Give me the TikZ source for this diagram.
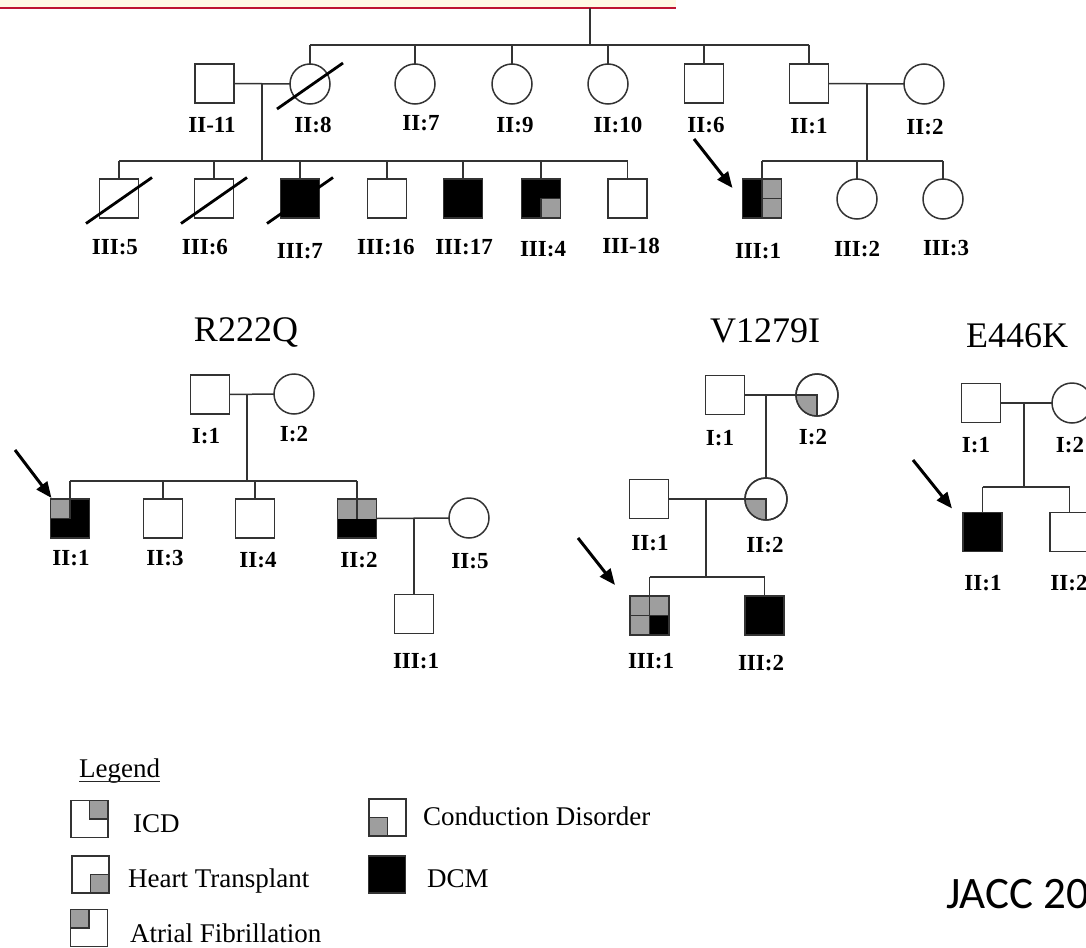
\documentclass[tikz,border=0pt]{standalone}
\usepackage{fontspec}
\setmainfont{Liberation Serif}
\newfontfamily\calibfont{Carlito}
\usetikzlibrary{arrows.meta,calc}
\definecolor{cream}{RGB}{255,249,228}
\definecolor{redline}{RGB}{190,20,50}
\newcommand\qNE[1]{\fill[gy] (#1.center) rectangle (#1.north east); \draw[ln] (#1.north) -- (#1.center) -- (#1.east);}
\newcommand\qNW[1]{\fill[gy] (#1.center) rectangle (#1.north west); \draw[ln] (#1.north) -- (#1.center) -- (#1.west);}
\newcommand\qSE[1]{\fill[gy] (#1.center) rectangle (#1.south east); \draw[ln] (#1.south) -- (#1.center) -- (#1.east);}
\newcommand\qSW[1]{\fill[gy] (#1.center) rectangle (#1.south west); \draw[ln] (#1.south) -- (#1.center) -- (#1.west);}
\newcommand\rebox[1]{\draw[ln] (#1.north west) rectangle (#1.south east);}
\newcommand\slashit[1]{\draw[dead] ([shift={(-33,25)}]#1.center) -- ([shift={(33,-21)}]#1.center);}
\begin{document}
\begin{tikzpicture}[x=1pt,y=-1pt,
 ln/.style={draw=black!80,line width=1.5pt},
 sq/.style={rectangle,draw=black!80,line width=1.5pt,minimum size=39pt,inner sep=0pt,outer sep=0pt,fill=white},
 ci/.style={circle,draw=black!80,line width=1.5pt,minimum size=40pt,inner sep=0pt,outer sep=0pt,fill=white},
 bsq/.style={sq,fill=black},
 lsq/.style={sq,minimum size=37pt},
 lab/.style={font=\fontsize{23}{23}\selectfont\bfseries,anchor=base,inner sep=0pt},
 ttl/.style={font=\fontsize{36}{36}\selectfont,anchor=base,inner sep=0pt},
 leg/.style={font=\fontsize{27}{27}\selectfont,anchor=base west,inner sep=0pt},
 arr/.style={line width=3pt,black,-{Triangle[length=16pt,width=13pt]}},
 dead/.style={line width=2.8pt,black},
 gy/.style={fill=black!38},
]
\clip (0,0) rectangle (1086,947);
\fill[white] (0,0) rectangle (1086,947);
% top band
\fill[cream] (0,0) rectangle (676,8);
\draw[redline,line width=1.3pt] (0,8) -- (676,8);

% ===== top pedigree, generation II =====
\node[sq] (t2_11) at (214.5,83.5) {};
\node[ci] (t2_8) at (310,84) {};
\node[ci] (t2_7) at (415,84) {};
\node[ci] (t2_9) at (512,84) {};
\node[ci] (t2_10) at (608,84) {};
\node[sq] (t2_6) at (704,83.5) {};
\node[sq] (t2_1) at (809,83.5) {};
\node[ci] (t2_2) at (924,84) {};
\coordinate (top0) at (590,8);
\coordinate (s2) at (590,45);
\draw[ln] (top0) -- (s2);
\draw[ln] (t2_8.north |- s2) -- (t2_1.north |- s2);
\foreach \n in {t2_8,t2_7,t2_9,t2_10,t2_6,t2_1} \draw[ln] (\n.north |- s2) -- (\n.north);
\slashit{t2_8}

% generation III left
\node[sq] (t3_5) at (119,198.5) {};
\node[sq] (t3_6) at (214,198.5) {};
\node[bsq] (t3_7) at (300,198.5) {};
\node[sq] (t3_16) at (387,198.5) {};
\node[bsq] (t3_17) at (463,198.5) {};
\node[bsq] (t3_4) at (541,198.5) {};
\node[sq] (t3_18) at (627.5,198.5) {};
\qSE{t3_4}\rebox{t3_4}
\draw[ln] (t2_11.east) -- (t2_8.west);
\coordinate (m21) at (262,84);
\coordinate (s3a) at (262,161);
\draw[ln] (m21) -- (s3a);
\draw[ln] (t3_5.north |- s3a) -- (t3_18.north |- s3a);
\foreach \n in {t3_5,t3_6,t3_7,t3_16,t3_17,t3_4,t3_18} \draw[ln] (\n.north |- s3a) -- (\n.north);
\slashit{t3_5}\slashit{t3_6}\slashit{t3_7}

% generation III right
\node[sq] (t3_1) at (762,198.5) {};
\node[ci] (t3_2) at (857,199) {};
\node[ci] (t3_3) at (943,199) {};
\fill[black] (t3_1.north west) rectangle (t3_1.south);
\fill[gy] (t3_1.north) rectangle (t3_1.south east);
\draw[ln] (t3_1.north) -- (t3_1.south) (t3_1.center) -- (t3_1.east);
\rebox{t3_1}
\draw[ln] (t2_1.east) -- (t2_2.west);
\coordinate (m22) at (867,84);
\coordinate (s3b) at (867,161);
\draw[ln] (m22) -- (s3b);
\draw[ln] (t3_1.north |- s3b) -- (t3_3.north |- s3b);
\foreach \n in {t3_1,t3_2,t3_3} \draw[ln] (\n.north |- s3b) -- (\n.north);
\coordinate (a1) at (694,139);
\draw[arr] (a1) -- ([shift={(-10,9)}]t3_1.north west);

% labels top
\node[lab] (lt2_11) at (212,132) {II-11};
\node[lab] (lt2_8) at (313,132) {II:8};
\node[lab] (lt2_7) at (421,131) {II:7};
\node[lab] (lt2_9) at (515,132) {II:9};
\node[lab] (lt2_10) at (618,132) {II:10};
\node[lab] (lt2_6) at (706,132) {II:6};
\node[lab] (lt2_1) at (809,133) {II:1};
\node[lab] (lt2_2) at (925,135) {II:2};
\node[lab] (lt3_5) at (115,254) {III:5};
\node[lab] (lt3_6) at (205,254) {III:6};
\node[lab] (lt3_7) at (300,258) {III:7};
\node[lab] (lt3_16) at (386,254) {III:16};
\node[lab] (lt3_17) at (464,254) {III:17};
\node[lab] (lt3_4) at (543,256) {III:4};
\node[lab] (lt3_18) at (631,253) {III-18};
\node[lab] (lt3_1) at (758,258) {III:1};
\node[lab] (lt3_2) at (857,256) {III:2};
\node[lab] (lt3_3) at (946,255) {III:3};

% ===== R222Q =====
\node[ttl] (tR) at (246,341) {R222Q};
\node[sq] (r1_1) at (210,394.5) {};
\node[ci] (r1_2) at (294,394) {};
\node[sq] (r2_1) at (70,518.5) {};
\node[sq] (r2_3) at (163,518.5) {};
\node[sq] (r2_4) at (255,518.5) {};
\node[sq] (r2_2) at (357,518.5) {};
\node[ci] (r2_5) at (469,518) {};
\node[sq] (r3_1) at (414,614) {};
\fill[black] (r2_1.north west) rectangle (r2_1.south east);
\qNW{r2_1}\rebox{r2_1}
\fill[gy] (r2_2.north west) rectangle (r2_2.east);
\fill[black] (r2_2.west) rectangle (r2_2.south east);
\draw[ln] (r2_2.north) -- (r2_2.center);
\rebox{r2_2}
\draw[ln] (r1_1.east) -- (r1_2.west);
\coordinate (mr1) at (247,394);
\coordinate (sr2) at (247,481);
\draw[ln] (mr1) -- (sr2);
\draw[ln] (r2_1.north |- sr2) -- (r2_2.north |- sr2);
\foreach \n in {r2_1,r2_3,r2_4,r2_2} \draw[ln] (\n.north |- sr2) -- (\n.north);
\draw[ln] (r2_2.east) -- (r2_5.west);
\coordinate (mr2) at (414,518);
\draw[ln] (mr2) -- (r3_1.north);
\coordinate (a2) at (15,450);
\draw[arr] (a2) -- ([shift={(1,-1)}]r2_1.north west);
\node[lab] (lr1_1) at (206,443) {I:1};
\node[lab] (lr1_2) at (294,441) {I:2};
\node[lab] (lr2_1) at (71,565) {II:1};
\node[lab] (lr2_3) at (165,565) {II:3};
\node[lab] (lr2_4) at (258,567) {II:4};
\node[lab] (lr2_2) at (359,567) {II:2};
\node[lab] (lr2_5) at (470,568) {II:5};
\node[lab] (lr3_1) at (416,668) {III:1};

% ===== V1279I =====
\node[ttl] (tV) at (765,342) {V1279I};
\node[sq] (v1_1) at (725,395) {};
\node[ci,minimum size=42pt] (v1_2) at (817,395) {};
\node[sq] (v2_1) at (649,499) {};
\node[ci,minimum size=42pt] (v2_2) at (766,499) {};
\node[sq] (v3_1) at (649.5,615.5) {};
\node[bsq] (v3_2) at (764.5,615.5) {};
\foreach \n in {v1_2,v2_2}{
  \begin{scope}
    \clip (\n.center) circle[radius=21];
    \fill[gy] ([shift={(-25,25)}]\n.center) rectangle (\n.center);
  \end{scope}
  \draw[ln] (\n.west) -- (\n.center) -- (\n.south);
  \draw[ln] (\n.center) circle[radius=21];
}
\fill[gy] (v3_1.north west) rectangle (v3_1.south east);
\fill[black] (v3_1.center) rectangle (v3_1.south east);
\draw[ln] (v3_1.north) -- (v3_1.south) (v3_1.west) -- (v3_1.east);
\rebox{v3_1}
\draw[ln] (v1_1.east) -- (v1_2.west);
\coordinate (mv1) at (v2_2.north |- v1_1.east);
\draw[ln] (mv1) -- (v2_2.north);
\draw[ln] (v2_1.east) -- (v2_2.west);
\coordinate (mv2) at (706,499);
\coordinate (sv3) at (706,577);
\draw[ln] (mv2) -- (sv3);
\draw[ln] (v3_1.north |- sv3) -- (v3_2.north |- sv3);
\foreach \n in {v3_1,v3_2} \draw[ln] (\n.north |- sv3) -- (\n.north);
\coordinate (a3) at (578,538);
\draw[arr] (a3) -- ([shift={(-15,-11)}]v3_1.north west);
\node[lab] (lv1_1) at (720,445) {I:1};
\node[lab] (lv1_2) at (813,444) {I:2};
\node[lab] (lv2_1) at (650,550) {II:1};
\node[lab] (lv2_2) at (765,552) {II:2};
\node[lab] (lv3_1) at (651,668) {III:1};
\node[lab] (lv3_2) at (761,670) {III:2};

% ===== E446K =====
\node[ttl] (tE) at (1017,347) {E446K};
\node[sq] (e1_1) at (981,403) {};
\node[ci] (e1_2) at (1072,403) {};
\node[bsq] (e2_1) at (982.5,532) {};
\node[sq] (e2_2) at (1069.5,532) {};
\draw[ln] (e1_1.east) -- (e1_2.west);
\coordinate (me1) at (1024,403);
\coordinate (se2) at (1024,487);
\draw[ln] (me1) -- (se2);
\draw[ln] (e2_1.north |- se2) -- (e2_2.north |- se2);
\foreach \n in {e2_1,e2_2} \draw[ln] (\n.north |- se2) -- (\n.north);
\coordinate (a4) at (913,460);
\draw[arr] (a4) -- ([shift={(-11,-4)}]e2_1.north west);
\node[lab] (le1_1) at (976,452) {I:1};
\node[lab] (le1_2) at (1070,452) {I:2};
\node[lab] (le2_1) at (983,590) {II:1};
\node[lab] (le2_2) at (1069,590) {II:2};

% ===== Legend =====
\node[leg] (lg) at (79,777) {Legend};
\draw[black!85,line width=1pt] ([yshift=-4pt]lg.base west) -- ([yshift=-4pt]lg.base east);
\node[lsq] (lg_icd) at (89.5,819) {};
\qNE{lg_icd}\rebox{lg_icd}
\node[leg] (lt_icd) at (133,832) {ICD};
\node[lsq] (lg_ht) at (90.5,874.5) {};
\qSE{lg_ht}\rebox{lg_ht}
\node[leg] (lt_ht) at (128,887) {Heart Transplant};
\node[lsq] (lg_af) at (89,928) {};
\qNW{lg_af}\rebox{lg_af}
\node[leg] (lt_af) at (130,942) {Atrial Fibrillation};
\node[lsq] (lg_cd) at (387.5,817.5) {};
\qSW{lg_cd}\rebox{lg_cd}
\node[leg] (lt_cd) at (423,825) {Conduction Disorder};
\node[lsq,fill=black] (lg_dcm) at (387,874.5) {};
\node[leg] (lt_dcm) at (427,887) {DCM};

% source
\node[font=\calibfont\fontsize{45}{45}\selectfont,anchor=base west,inner sep=0pt] (jacc) at (946,908) {JACC 20};
\end{tikzpicture}
\end{document}
